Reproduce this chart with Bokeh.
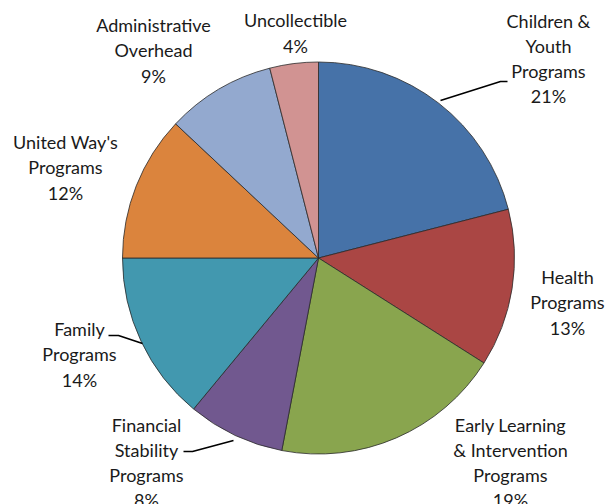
from math import pi
from bokeh.plotting import figure
from bokeh.models import Range1d
from bokeh.core.properties import value
from bokeh.embed import file_html
from bokeh.resources import INLINE

# ---- data ----
categories = ["Children &\nYouth\nPrograms", "Health\nPrograms", "Early Learning\n& Intervention\nPrograms",
              "Financial\nStability\nPrograms", "Family\nPrograms", "United Way's\nPrograms",
              "Administrative\nOverhead", "Uncollectible"]
percents = [21, 13, 19, 8, 14, 12, 9, 4]
colors = ["#4672A8", "#AA4644", "#89A54E", "#71588F", "#4298AF", "#DB843D", "#93A9CF", "#D19392"]

# ---- layout (pixel positions, y measured from top) ----
W, H = 610, 504
cx, cy, r = 318, 257.5, 196
label_x = [548, 567, 510, 146, 79, 65, 153, 295]
label_y = [58, 302, 462, 462, 354, 167, 50, 32.5]
leaders = [
    ([440, 500, 507], [100, 81, 81]),
    ([108, 118, 142], [335, 335, 343]),
    ([183, 192, 233], [451, 451, 440]),
]

total = sum(percents)
starts, ends = [], []
cum = 0.0
for v in percents:
    starts.append(pi / 2 - 2 * pi * cum / total)
    cum += v
    ends.append(pi / 2 - 2 * pi * cum / total)

p = figure(width=W, height=H, x_range=Range1d(0, W), y_range=Range1d(0, H),
           output_backend="svg", toolbar_location=None, min_border=0)
p.axis.visible = False
p.grid.visible = False
p.outline_line_color = None
p.background_fill_color = "white"

p.wedge(x=cx, y=H - cy, radius=r, start_angle=starts, end_angle=ends, direction="clock",
        fill_color=colors, line_color="#2a2a2a", line_width=0.8)

for xs, ys in leaders:
    p.line(xs, [H - y for y in ys], line_color="black", line_width=1.6)

texts = [f"{c}\n{v}%" for c, v in zip(categories, percents)]
p.text(x=label_x, y=[H - y for y in label_y], text=texts, text_align="center",
       text_baseline="middle", text_font=value("Lato"), text_font_size="18px",
       text_line_height=1.15, text_color="#1a1a1a")

open("out.html", "w").write(file_html(p, INLINE))
